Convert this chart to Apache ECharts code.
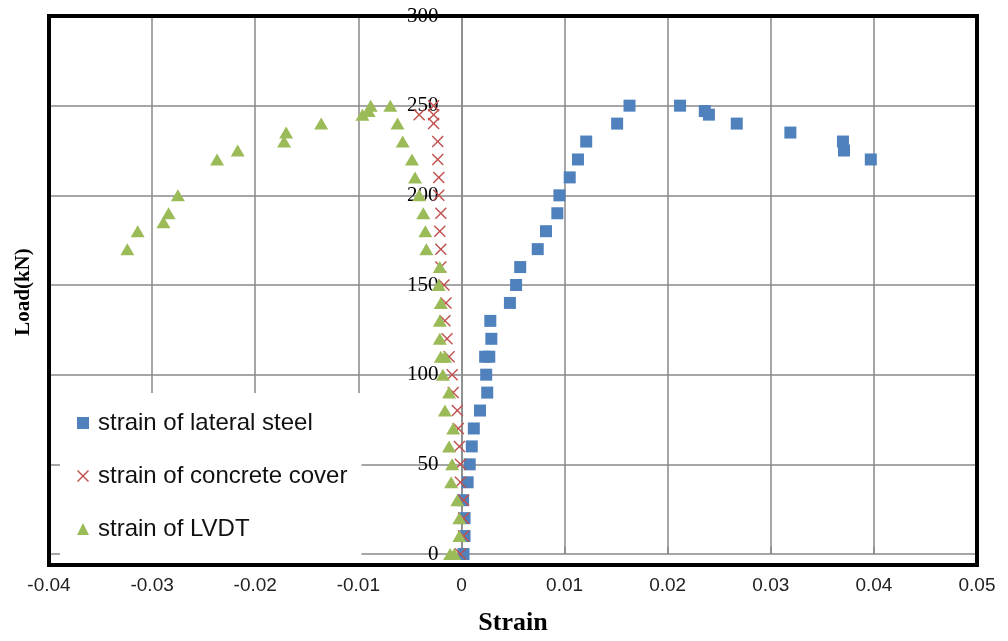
<!DOCTYPE html>
<html>
<head>
<meta charset="utf-8">
<title>Load-strain curves</title>
<script src="https://cdn.jsdelivr.net/npm/echarts@6/dist/echarts.min.js"></script>
<style>
  html, body { margin: 0; padding: 0; background: #fff; }
  #chart { width: 1008px; height: 641px; }
</style>
</head>
<body>
<div id="chart"></div>
<script>
// Lateral steel strain gauge
const steelLoad = [0, 10, 20, 30, 40, 50, 60, 70, 80, 90, 100, 110, 110, 120, 130, 140, 150, 160, 170, 180, 190, 200, 210, 220, 230, 240, 250, 250, 247, 245, 240, 235, 230, 225, 220];
const steelStrain = [0.0002, 0.0003, 0.0003, 0.00016, 0.0006, 0.0008, 0.001, 0.0012, 0.0018, 0.0025, 0.0024, 0.0023, 0.0027, 0.0029, 0.0028, 0.0047, 0.0053, 0.0057, 0.0074, 0.0082, 0.0093, 0.0095, 0.0105, 0.0113, 0.0121, 0.0151, 0.0163, 0.0212, 0.0236, 0.024, 0.0267, 0.0319, 0.037, 0.0371, 0.0397];

// Concrete cover strain gauge
const coverLoad = [0, 10, 20, 30, 40, 50, 60, 70, 80, 90, 100, 110, 120, 130, 140, 150, 160, 170, 180, 190, 200, 210, 220, 230, 240, 245, 245, 250];
const coverStrain = [-0.0001, 0.0002, 0.0002, 0.0002, -0.0001, -0.0001, -0.0002, -0.0003, -0.0004, -0.0008, -0.0009, -0.0012, -0.0014, -0.0016, -0.0015, -0.0017, -0.002, -0.002, -0.0021, -0.002, -0.0022, -0.0022, -0.0023, -0.0023, -0.0027, -0.0027, -0.0041, -0.0027];

// LVDT-derived axial strain
const lvdtLoad = [0, 0, 10, 20, 30, 40, 50, 60, 70, 80, 90, 100, 110, 110, 120, 130, 140, 150, 160, 170, 180, 190, 200, 210, 220, 230, 240, 250, 250, 247, 245, 240, 235, 230, 225, 220, 200, 190, 185, 180, 170];
const lvdtStrain = [-0.0011, -0.0007, -0.0002, -0.0002, -0.0004, -0.001, -0.0009, -0.0012, -0.0008, -0.0016, -0.0012, -0.0018, -0.002, -0.0016, -0.0021, -0.0021, -0.002, -0.0022, -0.0021, -0.0034, -0.0035, -0.0037, -0.0041, -0.0045, -0.0048, -0.0057, -0.0062, -0.0069, -0.0088, -0.009, -0.0096, -0.0136, -0.017, -0.0172, -0.0217, -0.0237, -0.0275, -0.0284, -0.0289, -0.0314, -0.0324];

const seriesNames = ['strain of lateral steel', 'strain of concrete cover', 'strain of LVDT'];
const xTitle = 'Strain';
const yTitle = 'Load(kN)';

const xMin = -0.04, xMax = 0.05;

const pair = (xs, ys) => xs.map((x, i) => [x, ys[i]]);
const crossPath = 'path://M1,0L6,5L11,0L12,1L7,6L12,11L11,12L6,7L1,12L0,11L5,6L0,1Z';

// plot box
const G = { left: 49, right: 31, top: 16, bottom: 76 };
const W = 1008, H = 641;
const plotW = W - G.left - G.right;
const plotH = H - G.top - G.bottom;
// the load axis sits where strain is zero
const yAxisOffset = -plotW * (0 - xMin) / (xMax - xMin);

const chart = echarts.init(document.getElementById('chart'), null, { renderer: 'canvas' });

chart.setOption({
  animation: false,
  backgroundColor: '#fff',
  grid: { left: G.left, right: G.right, top: G.top, bottom: G.bottom, show: false },
  xAxis: {
    type: 'value', min: xMin, max: xMax, interval: 0.01,
    name: xTitle, nameLocation: 'middle', nameGap: 56,
    nameTextStyle: { fontFamily: 'Liberation Serif', fontWeight: 'bold', fontSize: 26, color: '#000' },
    axisLine: { show: false },
    axisTick: { show: true, inside: true, length: 7, lineStyle: { color: '#888', width: 1.5 } },
    axisLabel: {
      margin: 22, fontFamily: 'Liberation Sans', fontSize: 19, color: '#222',
      formatter: v => (Math.abs(v) < 1e-9 ? '0' : String(+v.toFixed(2)))
    },
    splitLine: { show: true, lineStyle: { color: '#888', width: 1.5 } }
  },
  yAxis: {
    type: 'value', min: 0, max: 300, interval: 50,
    position: 'left', offset: yAxisOffset,
    axisLine: { show: true, onZero: false, lineStyle: { color: '#888', width: 1.5 } },
    axisTick: { show: false },
    axisLabel: { margin: 23, fontFamily: 'Liberation Serif', fontSize: 21, color: '#000' },
    splitLine: { show: true, lineStyle: { color: '#888', width: 1.5 } }
  },
  legend: {
    orient: 'vertical', left: 60, top: 393,
    backgroundColor: '#fff', padding: [17, 14, 15, 17],
    itemWidth: 12, itemHeight: 12, itemGap: 27,
    textStyle: { fontFamily: 'Liberation Sans', fontSize: 24, lineHeight: 26, color: '#111', padding: [0, 0, 0, 4] },
    data: [
      { name: seriesNames[0], icon: 'rect' },
      { name: seriesNames[1], icon: crossPath },
      { name: seriesNames[2], icon: 'triangle' }
    ]
  },
  graphic: [
    {
      type: 'rect', z: 50, silent: true,
      shape: { x: G.left, y: G.top, width: plotW, height: plotH },
      style: { fill: 'none', stroke: '#000', lineWidth: 4 }
    },
    {
      type: 'text', z: 50, silent: true,
      x: 24, y: 292, rotation: Math.PI / 2,
      style: { text: yTitle, font: 'bold 21px "Liberation Serif"', fill: '#000', align: 'center', verticalAlign: 'middle' }
    }
  ],
  series: [
    {
      name: seriesNames[0], type: 'scatter', data: pair(steelStrain, steelLoad),
      symbol: 'rect', symbolSize: 12, itemStyle: { color: '#4F81BD', opacity: 1 }, z: 2
    },
    {
      name: seriesNames[1], type: 'scatter', data: pair(coverStrain, coverLoad),
      symbol: crossPath, symbolSize: 12, itemStyle: { color: '#C0504D', opacity: 1 }, z: 3
    },
    {
      name: seriesNames[2], type: 'scatter', data: pair(lvdtStrain, lvdtLoad),
      symbol: 'triangle', symbolSize: [14, 12], itemStyle: { color: '#9BBB59', opacity: 1 }, z: 4
    }
  ]
});
</script>
</body>
</html>
